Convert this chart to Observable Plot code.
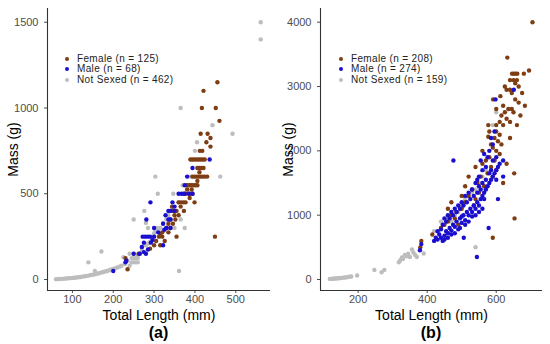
<!DOCTYPE html>
<html><head><meta charset="utf-8">
<script src="https://cdn.jsdelivr.net/npm/d3@7"></script>
<script src="https://cdn.jsdelivr.net/npm/@observablehq/plot@0.6"></script>
<style>
body{margin:0;background:#fff;font-family:"Liberation Sans",Arial,sans-serif;}
#wrap{display:flex;width:550px;height:344px;overflow:hidden;}
.panel{position:relative;width:275px;height:344px;}
.panel svg{position:absolute;left:0;top:0;}
.tag{position:absolute;top:323px;font-weight:bold;font-size:16px;color:#000;text-align:center;width:60px;line-height:20px;}
.legend{position:absolute;font-size:10px;letter-spacing:0.35px;line-height:10.5px;color:#222;}
.legend div{display:flex;align-items:center;white-space:nowrap;height:10.5px;}
.legend span.k{display:inline-block;width:4px;height:4px;border-radius:50%;margin-right:8px;}
</style></head><body>
<div id="wrap"><div class="panel" id="pa"></div><div class="panel" id="pb"></div></div>
<script>
// ---------- Panel (a) ----------
const aXTicks = [100, 200, 300, 400, 500];
const aYTicks = [0, 500, 1000, 1500];
const aXDomain = [39, 585];
const aYDomain = [-64, 1580];
const aLegend = ["Female (n = 125)", "Male (n = 68)", "Not Sexed (n = 462)"];
const aFemale = [[455,1150],[421,1100],[417,1000],[451,1000],[460,925],[414,850],[431,850],[438,825],[428,800],[438,775],[412,750],[418,750],
[389,700],[394,700],[399,700],[404,700],[409,700],[414,700],[419,700],[424,700],
[406,650],[411,650],[416,650],[421,650],[411,625],
[394,600],[399,600],[404,600],[409,600],[414,600],[419,600],[424,600],[430,600],
[406,575],[381,550],[386,550],[391,550],[396,550],[401,550],[406,550],
[381,525],[392,525],[372,500],[377,500],[387,500],[394,500],[387,475],
[360,450],[366,450],[372,450],[377,450],[399,450],[344,425],[365,425],
[373,400],[355,400],[345,400],[360,375],[350,375],[340,350],[352,350],[346,325],[335,325],
[330,300],[340,300],[320,275],[335,275],[355,250],[449,250],[312,250],[320,250],[326,225],[315,200],[300,200],[290,180],[235,60],[230,125],[262,150],[305,225],[315,260]];
const aMale = [[436,700],[394,650],[381,600],[375,550],[360,500],[367,500],[375,500],[385,500],[394,500],[291,450],[345,450],[350,425],[335,400],[340,400],[350,400],[328,375],[335,350],[340,350],[322,325],[330,300],[340,300],[325,290],[281,350],[300,300],[272,250],[278,250],[284,250],[290,250],[322,200],[292,215],[275,215],[270,190],[285,175],[275,160],[280,150],[265,150],[250,150],[230,100],[232,110],[200,50],[300,250],[310,275],[296,230]];
const aNotSexed = [[60,2],[65,3],[70,3],[75,4],[80,5],[85,6],[90,7],[95,8],[100,9],[105,10],[110,12],[115,13],[120,15],[125,17],[130,19],[135,21],[140,23],[145,26],[150,28],[155,31],[160,34],[165,37],[170,40],[175,44],[180,47],[185,50],[190,54],[195,58],[200,62],[205,66],[210,70],[215,75],[220,80],
[139,100],[171,163],[155,50],[250,350],[276,400],[309,500],[347,500],[303,600],[462,600],[361,50],[365,1000],[443,900],[492,850],[561,1400],[561,1500],
[245,100],[250,100],[255,100],[260,100],[245,125],[250,125],[255,125],[260,125],[240,150],[250,150],[260,140],[265,150],[270,180],[275,200],[280,200],[285,210],[290,220],[295,250],[300,270],[303,290],[308,300],[310,280],[315,300],[322,330],[330,350],[335,375],[340,400],[345,420],[270,165],[225,130],[235,110],[228,90],[240,80],[350,300],[375,300],[365,350],[390,600],[400,750],[405,800],[380,550],[360,450],[370,550],[280,330],[285,300]];

// ---------- Panel (b) ----------
const bXTicks = [200, 400, 600];
const bYTicks = [0, 1000, 2000, 3000, 4000];
const bXDomain = [91, 734];
const bYDomain = [-171, 4213];
const bLegend = ["Female (n = 208)", "Male (n = 274)", "Not Sexed (n = 159)"];
const bFemale = [[705,4000],[632,3450],[695,3250],[680,3200],[675,2900],[683,2700],[591,2800],[646,3200],[651,3200],[656,3200],[661,3200],[640,3100],[650,3100],[660,3100],[655,3050],[665,3000],[630,2950],[640,2950],[625,3000],[645,2900],[655,2800],[665,2750],[620,2700],[635,2650],[645,2650],[650,2600],[625,2600],[615,2550],[630,2500],[640,2450],[610,2450],[600,2400],[620,2400],[577,2400],[577,2220],[600,2300],[610,2250],[595,2200],[605,2150],[615,2100],[585,2100],[590,2050],[600,2000],[610,1950],[580,1900],[570,1850],[595,1850],[560,1800],[585,1750],[600,1700],[575,1650],[590,1600],[652,1650],[555,1600],[545,1500],[565,1450],[530,1400],[550,1350],[520,1300],[540,1250],[510,1200],[535,1150],[500,1100],[485,1050],[470,1000],[480,950],[460,900],[490,850],[450,850],[440,800],[415,700],[383,600],[380,500],[590,650],[653,950],[620,1500],[630,1800],[640,2200],[660,2400],[670,2550],[612,2850],[600,2650],[580,2300],[560,2000],[540,1750],[520,1600],[510,1450],[500,1300],[470,1200],[460,1100]];
const bMale = [[476,1850],[651,2950],[598,2800],[544,350],[578,800],[605,1250],[506,650],[620,1600],[379,455],[383,550],[420,600],[425,650],[430,620],[435,700],[440,650],[445,600],[450,680],[455,750],[460,720],[465,800],[470,760],[475,850],[480,820],[485,900],[490,780],[495,950],[500,880],[505,1000],[510,920],[515,1050],[520,1000],[525,1100],[530,1050],[535,1150],[540,1100],[545,1200],[550,1150],[555,1250],[560,1300],[565,1350],[570,1400],[575,1450],[580,1500],[585,1550],[590,1600],[595,1650],[600,1700],[605,1750],[600,1900],[590,1850],[585,1700],[580,1650],[570,1550],[560,1500],[550,1450],[545,1350],[535,1300],[525,1250],[515,1200],[505,1150],[495,1100],[485,1050],[475,1000],[465,950],[455,900],[445,850],[440,780],[430,750],[560,1700],[570,1750],[575,1900],[580,2000],[590,2100],[595,2300],[585,2200],[565,1950],[555,1850],[550,1600],[540,1500],[530,1400],[520,1350],[510,1300],[500,1200],[490,1150],[480,1100],[470,1050],[460,1000],[450,950],[620,1850],[610,1800],[600,1550],[450,620],[460,650],[470,700],[480,720],[495,800],[510,850],[500,980],[520,900],[530,980],[540,1000],[550,1050],[560,1100],[555,1400],[545,1550],[565,1250]];
const bNotSexed = [[118,9],[122,10],[126,12],[130,14],[134,15],[138,17],[142,19],[146,21],[150,23],[155,26],[160,30],[165,33],[170,37],[175,42],[180,47],[197,62],[247,149],[268,113],[276,149],[318,268],[322,300],[327,341],[330,320],[335,380],[340,360],[345,400],[350,350],[356,466],[360,420],[365,380],[370,350],[390,404],[540,501],[420,750],[440,900],[460,950],[470,900],[480,1000],[490,1050],[500,1150],[510,1250],[520,1300],[530,1350],[540,1400],[550,1500],[560,1600],[570,1700],[600,2600],[590,2400]];

const colors = ["#7e3d12", "#1a0fcf", "#bdbdbd"];
const FONT = '"Liberation Sans", Arial, sans-serif';

function panel(el, cfg) {
  const svg = Plot.plot({
    width: 275, height: 332,
    marginLeft: cfg.ml, marginRight: cfg.mr, marginTop: 8, marginBottom: 42,
    style: {fontSize: "11px", fontFamily: FONT, color: "#4d4d4d", background: "transparent"},
    x: {domain: cfg.xd, ticks: cfg.xt, tickSize: 3, tickPadding: 2, tickFormat: d => String(d), label: "Total Length (mm)", labelAnchor: "center", labelOffset: 29.5, labelArrow: "none"},
    y: {domain: cfg.yd, ticks: cfg.yt, tickSize: 3, tickFormat: d => String(d), label: "Mass (g)", labelAnchor: "center", labelOffset: cfg.ml - 8, labelArrow: "none"},
    marks: [
      Plot.ruleX([cfg.xd[0]], {stroke: "#333", strokeWidth: 1.1}),
      Plot.ruleY([cfg.yd[0]], {stroke: "#333", strokeWidth: 1.1}),
      Plot.dot(cfg.n, {x: d => d[0], y: d => d[1], r: 2.2, fill: colors[2]}),
      Plot.dot(cfg.f, {x: d => d[0], y: d => d[1], r: 2.2, fill: colors[0]}),
      Plot.dot(cfg.m, {x: d => d[0], y: d => d[1], r: 2.2, fill: colors[1]})
    ]
  });
  d3.select(svg).selectAll('[aria-label$="axis label"]').style("font-size", "14px").attr("fill", "#000").style("color", "#000");
  el.appendChild(svg);
  const tag = document.createElement("div");
  tag.className = "tag"; tag.textContent = cfg.tag;
  tag.style.left = ((cfg.ml + 275 - cfg.mr) / 2 - 30) + "px";
  el.appendChild(tag);
  const lg = document.createElement("div");
  lg.className = "legend";
  lg.style.left = cfg.lx + "px"; lg.style.top = cfg.ly + "px";
  cfg.leg.forEach((t, i) => {
    const row = document.createElement("div");
    row.innerHTML = `<span class="k" style="background:${colors[i]}"></span>${t}`;
    lg.appendChild(row);
  });
  el.appendChild(lg);
}
panel(document.getElementById("pa"), {ml: 47, mr: 5, xd: aXDomain, yd: aYDomain, xt: aXTicks, yt: aYTicks, f: aFemale, m: aMale, n: aNotSexed, tag: "(a)", leg: aLegend, lx: 65, ly: 53.5});
panel(document.getElementById("pb"), {ml: 45, mr: 8, xd: bXDomain, yd: bYDomain, xt: bXTicks, yt: bYTicks, f: bFemale, m: bMale, n: bNotSexed, tag: "(b)", leg: bLegend, lx: 64, ly: 53.5});
</script></body></html>
